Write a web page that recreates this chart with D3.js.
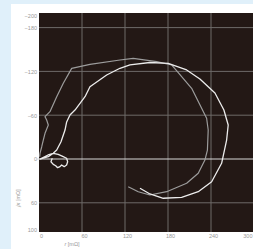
<!DOCTYPE html>
<html><head><meta charset="utf-8">
<script src="https://cdn.jsdelivr.net/npm/d3@7"></script>
<style>html,body{margin:0;padding:0;background:#e0f0fa;overflow:hidden}</style>
</head><body>
<svg id="c" width="253" height="249"></svg>
<script>
const xTicks = [0, 60, 120, 180, 240, 300];
const yTicks = [-200, -180, -120, -60, 0, 60, 100];
const xGrid = [60, 120, 180, 240];
const yGrid = [-180, -120, -60, 60];

// gray (dimmer) trace: r, jx
const grayR = [1, 1.4, 3.8, 6.0, 8.4, 13, 10.7, 8.4, 15.3, 24.7, 33.9, 45.6, 71.1, 113, 131.5, 164.2, 185.1, 213, 233.9, 236.1, 235, 231.5, 222.2, 206, 178.1, 154.8, 138.5, 124.5];
const grayX = [-3, -7.8, -16.8, -26, -35.2, -46.6, -53.4, -58, -64.8, -85.3, -103.7, -124.2, -129.7, -135.6, -137.9, -133.3, -128.8, -96.8, -55.8, -39.7, -12.3, 1.4, 19.6, 33.3, 44.8, 49.3, 44.8, 37.9];

// white (bright) trace: r, jx
const whiteR = [140.9, 154.8, 173.4, 199, 222.2, 240.9, 254.8, 261.8, 264, 258, 245.5, 224.5, 206, 180.3, 154.8, 126.9, 113, 94.4, 71.1, 64.2, 50.2, 43.2, 38.6, 36.3, 30.7, 24.7, 19.9, 12.6, 7, 1.4, 13, 19.9, 26.8, 33.8, 38.5, 40, 38.5, 35.2, 31.5, 29.3, 26, 23.3, 19.9, 16.7, 18.5];
const whiteX = [40.1, 47.9, 53.8, 52.7, 44.8, 31.1, 5.9, -26, -46.6, -67.1, -90.4, -109.6, -122, -131.1, -132.2, -128.8, -124.3, -115.1, -99, -85.3, -67.1, -60.3, -50.7, -39.7, -23.7, -12.3, -7.8, -5.5, -2.7, 0, -3.2, -7.8, -6.4, -3.2, -1, 3.7, 8.2, 10.5, 8.2, 10.5, 11.9, 9.2, 7.3, 3.7, -1];

const svg = d3.select('#c');
svg.append('rect').attr('x', 11).attr('y', 4).attr('width', 242).attr('height', 245).attr('fill', '#ffffff');

const x = d3.scaleLinear().domain([0, 300]).range([39, 254]);
const y = d3.scaleLinear().domain([-200, 100]).range([13, 232]);

svg.append('rect').attr('x', x(0)).attr('y', y(-200))
  .attr('width', x(300) - x(0)).attr('height', y(100) - y(-200)).attr('fill', '#231815');

const g = svg.append('g');
g.selectAll('.vg').data(xGrid).join('line')
  .attr('x1', d => x(d)).attr('x2', d => x(d)).attr('y1', y(-200)).attr('y2', y(100))
  .attr('stroke', '#6e6a68').attr('stroke-width', 1);
g.selectAll('.hg').data(yGrid).join('line')
  .attr('y1', d => y(d)).attr('y2', d => y(d)).attr('x1', x(0)).attr('x2', x(300))
  .attr('stroke', '#6e6a68').attr('stroke-width', 1);
g.append('line').attr('x1', x(0) - 2).attr('x2', x(300)).attr('y1', y(0)).attr('y2', y(0))
  .attr('stroke', '#d8d8d8').attr('stroke-width', 1);

const line = d3.line().x(d => x(d[0])).y(d => y(d[1]));
svg.append('path').datum(grayR.map((r, i) => [r, grayX[i]]))
  .attr('d', line).attr('fill', 'none').attr('stroke', '#9c9c9c').attr('stroke-width', 1.2).attr('stroke-linejoin', 'round');
svg.append('path').datum(whiteR.map((r, i) => [r, whiteX[i]]))
  .attr('d', line).attr('fill', 'none').attr('stroke', '#ececec').attr('stroke-width', 1.3).attr('stroke-linejoin', 'round');

const font = 'Liberation Sans, Arial, sans-serif';
const yAxis = d3.axisLeft(y).tickValues(yTicks).tickSize(0).tickPadding(2);
const ya = svg.append('g').attr('transform', `translate(${x(0)},0)`).call(yAxis);
ya.select('.domain').remove();
ya.selectAll('text').attr('font-family', font).attr('font-size', 5.5).attr('fill', '#999')
  .attr('dy', d => d === -200 ? '0.9em' : d === 100 ? '-0.1em' : '0.35em');

const xAxis = d3.axisBottom(x).tickValues(xTicks).tickSize(0).tickPadding(2);
const xa = svg.append('g').attr('transform', `translate(2,${y(100)})`).call(xAxis);
xa.select('.domain').remove();
xa.selectAll('text').attr('font-family', font).attr('font-size', 5.5).attr('fill', '#999')
  .attr('text-anchor', d => d === 300 ? 'end' : 'middle')
  .attr('dx', d => d === 300 ? -4 : 0);

svg.append('text').attr('x', 72).attr('y', 246).attr('text-anchor', 'middle')
  .attr('font-family', font).attr('font-size', 5.5).attr('fill', '#999')
  .html('<tspan font-style="italic">r</tspan>  [mΩ]');
svg.append('text').attr('transform', 'translate(20,198) rotate(-90)').attr('text-anchor', 'middle')
  .attr('font-family', font).attr('font-size', 5.5).attr('fill', '#999')
  .html('<tspan font-style="italic">jx</tspan>  [mΩ]');
</script>
</body></html>
